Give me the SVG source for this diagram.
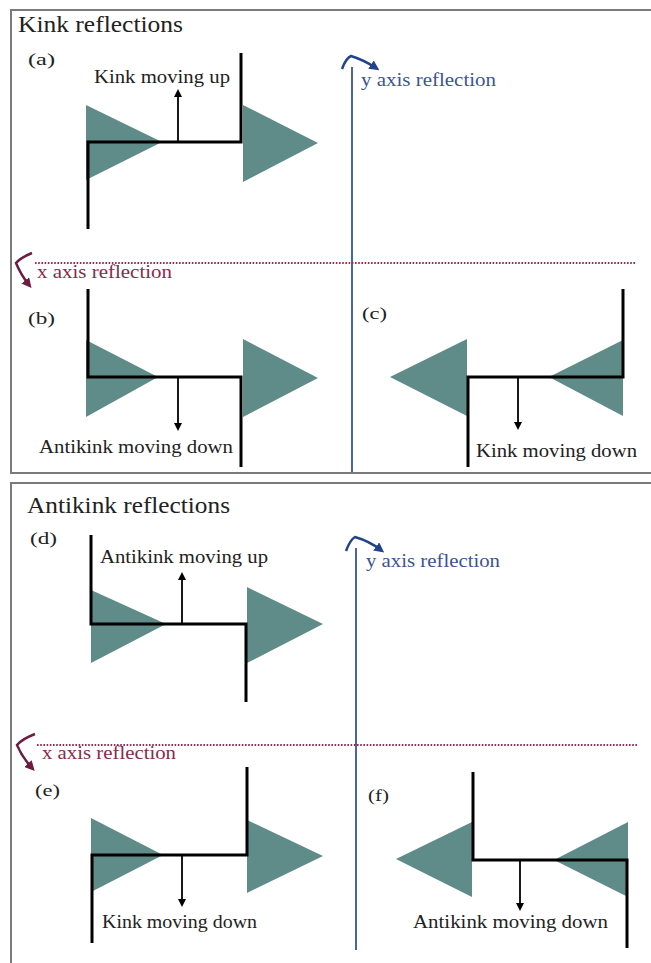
<svg xmlns="http://www.w3.org/2000/svg" width="651" height="963" viewBox="0 0 651 963">
<style>
text{font-family:"Liberation Serif","Times New Roman",serif;fill:#222}
.title{font-size:23px}
.lbl{font-size:17px}
.cap{font-size:18.5px}
.ax-y{font-size:19.5px;fill:#3b5593}
.ax-x{font-size:19.5px;fill:#8a2a4e}
.tri{fill:#5f8b89}
.kink{fill:none;stroke:#000;stroke-width:3;stroke-linejoin:miter}
.arr{stroke:#000;stroke-width:1.8;fill:none}
.frame{fill:none;stroke:#7a7a7a;stroke-width:2}
.yline{stroke:#4a64a8;stroke-width:2;fill:none}
.ycurve{stroke:#22428a;stroke-width:2.5;fill:none}
.xline{stroke:#9a2a55;stroke-width:1.8;stroke-dasharray:1.6 1.6;fill:none}
.xcurve{stroke:#6e1c40;stroke-width:2.5;fill:none}
</style>
<defs>
<marker id="ah" markerWidth="8" markerHeight="8" refX="5" refY="4" orient="auto" markerUnits="userSpaceOnUse" viewBox="0 0 8 8"><path d="M0,0 L8,4 L0,8 Z" fill="#000"/></marker>
<marker id="ahy" markerWidth="10" markerHeight="10" refX="6" refY="5" orient="auto" markerUnits="userSpaceOnUse" viewBox="0 0 10 10"><path d="M0,0 L10,5 L0,10 Z" fill="#22428a"/></marker>
<marker id="ahx" markerWidth="10" markerHeight="10" refX="6" refY="5" orient="auto" markerUnits="userSpaceOnUse" viewBox="0 0 10 10"><path d="M0,0 L10,5 L0,10 Z" fill="#6e1c40"/></marker>
</defs>
<rect width="651" height="963" fill="#fff"/>

<g id="frames">
<path class="frame" d="M651,10 H11 V473 H651"/>
<path class="frame" d="M651,483 H11 V963"/>
<text class="title" x="18" y="32" textLength="165" lengthAdjust="spacingAndGlyphs">Kink reflections</text>
<text class="title" x="27" y="513" textLength="203" lengthAdjust="spacingAndGlyphs">Antikink reflections</text>
</g>

<g id="axes">
<line class="yline" x1="352" y1="67" x2="352" y2="472"/>
<path class="ycurve" d="M342,69 Q346,58 351,56 Q364,60 376,68" marker-end="url(#ahy)"/>
<text class="ax-y" x="361" y="86" textLength="135" lengthAdjust="spacingAndGlyphs">y axis reflection</text>
<line class="xline" x1="35" y1="263" x2="636" y2="263"/>
<path class="xcurve" d="M32,253 Q20,258 16,263 Q21,275 29,285" marker-end="url(#ahx)"/>
<text class="ax-x" x="37" y="278" textLength="135" lengthAdjust="spacingAndGlyphs">x axis reflection</text>

<line class="yline" x1="356" y1="548" x2="356" y2="950"/>
<path class="ycurve" d="M346,551 Q350,540 355,537 Q369,541 381,550" marker-end="url(#ahy)"/>
<text class="ax-y" x="366" y="567" textLength="134" lengthAdjust="spacingAndGlyphs">y axis reflection</text>
<line class="xline" x1="37" y1="745" x2="638" y2="745"/>
<path class="xcurve" d="M35,734 Q22,739 17,745 Q22,757 32,768" marker-end="url(#ahx)"/>
<text class="ax-x" x="42" y="759" textLength="134" lengthAdjust="spacingAndGlyphs">x axis reflection</text>
</g>

<g id="panel-a">
<text class="lbl" x="28" y="65" textLength="27" lengthAdjust="spacingAndGlyphs">(a)</text>
<polygon class="tri" points="86,105 162,142 86,180"/>
<polygon class="tri" points="243,105 318,143 243,182"/>
<path class="kink" d="M88,229 V142 H241 V53"/>
<line class="arr" x1="178" y1="142" x2="178" y2="92" marker-end="url(#ah)"/>
<text class="cap" x="94" y="83" textLength="136" lengthAdjust="spacingAndGlyphs">Kink moving up</text>
</g>

<g id="panel-b">
<text class="lbl" x="28" y="324" textLength="27" lengthAdjust="spacingAndGlyphs">(b)</text>
<polygon class="tri" points="86,340 158,377 86,417"/>
<polygon class="tri" points="243,339 318,378 243,417"/>
<path class="kink" d="M88,289 V377 H241 V467"/>
<line class="arr" x1="178" y1="377" x2="178" y2="428" marker-end="url(#ah)"/>
<text class="cap" x="39" y="453" textLength="194" lengthAdjust="spacingAndGlyphs">Antikink moving down</text>
</g>

<g id="panel-c">
<text class="lbl" x="362" y="319" textLength="25" lengthAdjust="spacingAndGlyphs">(c)</text>
<polygon class="tri" points="390,377 467,339 467,416"/>
<polygon class="tri" points="549,377 623,340 623,416"/>
<path class="kink" d="M623,289 V377 H468 V467"/>
<line class="arr" x1="518" y1="377" x2="518" y2="427" marker-end="url(#ah)"/>
<text class="cap" x="476" y="457" textLength="161" lengthAdjust="spacingAndGlyphs">Kink moving down</text>
</g>

<g id="panel-d">
<text class="lbl" x="30" y="544" textLength="27" lengthAdjust="spacingAndGlyphs">(d)</text>
<polygon class="tri" points="91,590 166,624 91,663"/>
<polygon class="tri" points="247,587 323,624 247,663"/>
<path class="kink" d="M91,535 V624 H246 V702"/>
<line class="arr" x1="182" y1="624" x2="182" y2="575" marker-end="url(#ah)"/>
<text class="cap" x="100" y="563" textLength="168" lengthAdjust="spacingAndGlyphs">Antikink moving up</text>
</g>

<g id="panel-e">
<text class="lbl" x="35" y="796" textLength="25" lengthAdjust="spacingAndGlyphs">(e)</text>
<polygon class="tri" points="91,818 163,855 91,892"/>
<polygon class="tri" points="247,820 323,856 247,893"/>
<path class="kink" d="M247,767 V855 H92 V943"/>
<line class="arr" x1="182" y1="855" x2="182" y2="904" marker-end="url(#ah)"/>
<text class="cap" x="102" y="928" textLength="155" lengthAdjust="spacingAndGlyphs">Kink moving down</text>
</g>

<g id="panel-f">
<text class="lbl" x="368" y="801" textLength="21" lengthAdjust="spacingAndGlyphs">(f)</text>
<polygon class="tri" points="396,859 472,822 472,897"/>
<polygon class="tri" points="554,860 628,822 628,897"/>
<path class="kink" d="M473,772 V860 H627 V948"/>
<line class="arr" x1="520" y1="860" x2="520" y2="908" marker-end="url(#ah)"/>
<text class="cap" x="413" y="928" textLength="195" lengthAdjust="spacingAndGlyphs">Antikink moving down</text>
</g>
</svg>
